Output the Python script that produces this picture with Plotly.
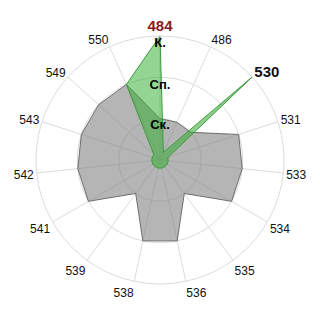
import plotly.graph_objects as go

categories = ["484", "486", "530", "531", "533", "534", "535", "536",
              "538", "539", "541", "542", "543", "549", "550"]
grey_values = [1, 1, 1, 2, 2, 2, 1, 2, 2, 1, 2, 2, 2, 2, 2]
green_values = [3, 0.2, 3, 0.2, 0.2, 0.2, 0.2, 0.2, 0.2, 0.2, 0.2, 0.2, 0.2, 0.2, 2]
level_labels = ["Ск.", "Сп.", "К."]
level_r = [0.82, 1.79, 2.81]

tick_text = []
for c in categories:
    if c == "484":
        tick_text.append('<span style="font-size:15px;color:#8B1A1A"><b>484</b></span>')
    elif c == "530":
        tick_text.append('<span style="font-size:15px;color:#111"><b>530</b></span>')
    else:
        tick_text.append(c)

fig = go.Figure()
fig.add_trace(go.Scatterpolar(
    r=grey_values + grey_values[:1], theta=categories + categories[:1],
    mode="lines", fill="toself",
    fillcolor="rgba(128,128,128,0.58)",
    line=dict(color="#6e6e6e", width=1),
))
fig.add_trace(go.Scatterpolar(
    r=green_values + green_values[:1], theta=categories + categories[:1],
    mode="lines", fill="toself",
    fillcolor="rgba(50,175,50,0.52)",
    line=dict(color="#3a9a3a", width=1),
))
fig.add_trace(go.Scatterpolar(
    r=level_r, theta=["484"] * 3, mode="text", text=level_labels,
    texttemplate="<b>%{text}</b>",
    textposition="middle center",
    textfont=dict(family="Liberation Sans, Arial", size=13, color="#000"),
))

fig.update_layout(
    width=320, height=320,
    margin=dict(l=36, r=36, t=36, b=36),
    paper_bgcolor="white",
    showlegend=False,
    font=dict(family="Liberation Sans, Arial", size=12, color="#111"),
    polar=dict(
        bgcolor="white",
        angularaxis=dict(
            type="category", categoryarray=categories,
            tickmode="array", tickvals=categories, ticktext=tick_text,
            rotation=90, direction="clockwise",
            gridcolor="#dcdcdc", linecolor="#dcdcdc", showline=True,
            ticks="", tickfont=dict(size=12, color="#111"),
        ),
        radialaxis=dict(
            range=[0, 3], tickvals=[1, 2, 3], showticklabels=False,
            showline=False, ticks="", gridcolor="#dcdcdc",
        ),
    ),
)
fig.write_html("out.html")
